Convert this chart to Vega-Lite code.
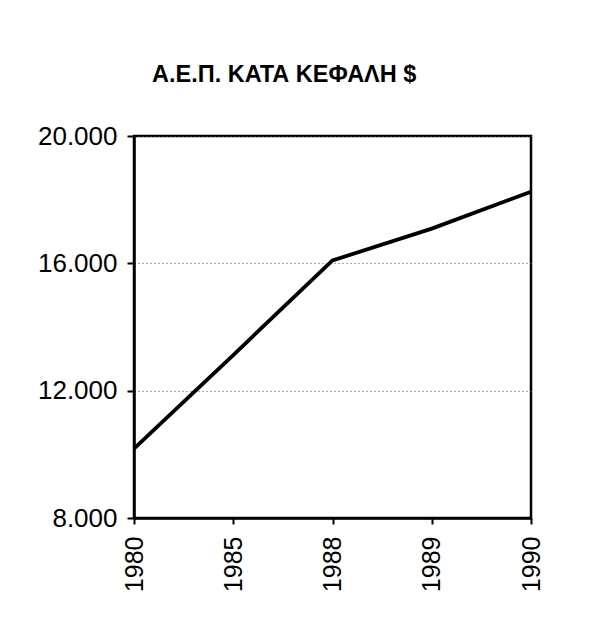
{
  "$schema": "https://vega.github.io/schema/vega-lite/v6.json",
  "autosize": {"type": "none"},
  "padding": {"left": 134, "top": 136, "right": 63, "bottom": 99},
  "width": 397,
  "height": 382,
  "background": "white",
  "title": {
    "text": "Α.Ε.Π. ΚΑΤΑ ΚΕΦΑΛΗ $",
    "font": "Liberation Sans",
    "fontSize": 23.5,
    "fontWeight": "bold",
    "color": "black",
    "anchor": "start",
    "frame": "group",
    "dx": 18,
    "offset": 37
  },
  "data": {
    "values": [
      {"year": "1980", "gdp": 10180},
      {"year": "1985", "gdp": 13120},
      {"year": "1988", "gdp": 16090},
      {"year": "1989", "gdp": 17090},
      {"year": "1990", "gdp": 18250}
    ]
  },
  "mark": {"type": "line", "color": "black", "strokeWidth": 3.8, "strokeJoin": "miter"},
  "encoding": {
    "x": {
      "field": "year",
      "type": "ordinal",
      "scale": {"type": "point", "padding": 0},
      "axis": {
        "title": null,
        "labelAngle": -90,
        "labelAlign": "right",
        "labelBaseline": "middle",
        "labelFont": "Liberation Sans",
        "labelFontSize": 25,
        "labelColor": "black",
        "labelPadding": 12,
        "tickSize": 6,
        "tickColor": "black",
        "tickWidth": 2,
        "domainColor": "black",
        "domainWidth": 2.5,
        "grid": false
      }
    },
    "y": {
      "field": "gdp",
      "type": "quantitative",
      "scale": {"domain": [8000, 20000], "nice": false, "zero": false},
      "axis": {
        "title": null,
        "values": [8000, 12000, 16000, 20000],
        "labelExpr": "replace(format(datum.value, ',d'), ',', '.')",
        "labelFont": "Liberation Sans",
        "labelFontSize": 26,
        "labelColor": "black",
        "labelPadding": 10,
        "tickSize": 7,
        "tickColor": "black",
        "tickWidth": 2,
        "domainColor": "black",
        "domainWidth": 2.5,
        "grid": true,
        "gridColor": "#555555",
        "gridDash": [1, 3],
        "gridWidth": 1
      }
    }
  },
  "config": {
    "view": {"stroke": "black", "strokeWidth": 2.5}
  }
}
